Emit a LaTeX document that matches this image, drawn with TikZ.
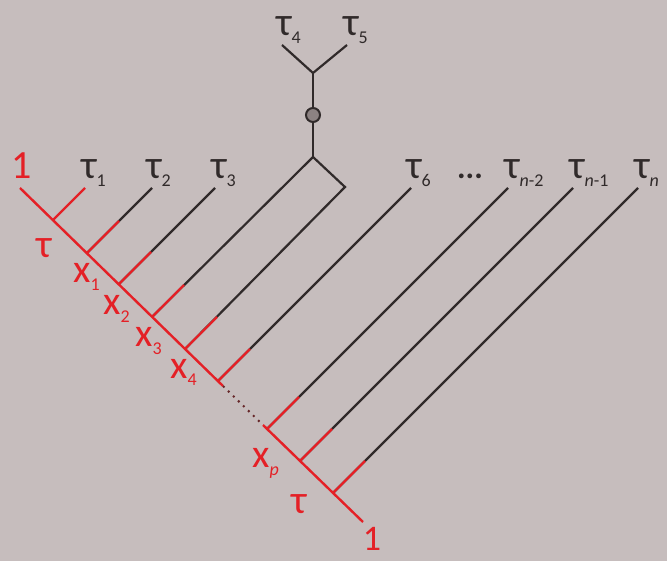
\documentclass[tikz,border=0pt]{standalone}
\usepackage{fontspec}
\setmainfont{Carlito}
\definecolor{bg}{RGB}{198,189,189}
\definecolor{rd}{RGB}{228,32,38}
\definecolor{ink}{RGB}{48,42,42}
\definecolor{knob}{RGB}{140,130,130}
\newcommand{\lowsub}[1]{\raisebox{-0.2em}{\fontsize{18}{18}\selectfont #1}}
\begin{document}
\begin{tikzpicture}[x=1pt,y=-1pt,
  lab/.style={inner sep=0pt, anchor=base west, font=\fontsize{40}{40}\selectfont, text=ink},
  rlab/.style={lab, text=rd},
  blk/.style={draw=ink, line width=2.2pt},
  redline/.style={draw=rd, line width=2.4pt},
  dotline/.style={draw=ink!70!rd, line width=2pt, dash pattern=on 2pt off 5pt}]
\fill[bg] (0,0) rectangle (667,561);
\useasboundingbox (0,0) rectangle (667,561);

% spine ends and junctions
\coordinate (S) at (20,188);
\coordinate (E) at (363,522);
\coordinate (j1) at (53,220);
\coordinate (j2) at (87,253);
\coordinate (j3) at (119,284);
\coordinate (j4) at (152,317);
\coordinate (j5) at (185,349);
\coordinate (j6) at (218,381);
\coordinate (j7) at (267,429);
\coordinate (j8) at (300,461);
\coordinate (j9) at (333,493);
\coordinate (dA) at (223,386);
\coordinate (dB) at (263,425);

% branch tips
\coordinate (t1) at (85,188);
\coordinate (t2) at (152,188);
\coordinate (t3) at (215,188);
\coordinate (t6) at (411,188);
\coordinate (t7) at (508,188);
\coordinate (t8) at (573,188);
\coordinate (t9) at (638,188);

% upper tree
\coordinate (T) at (313,157);
\coordinate (R) at (345,187);
\coordinate (Y) at (313,73);
\coordinate (y4) at (282,45);
\coordinate (y5) at (347,45);
\node[circle, draw=ink, fill=knob, line width=2pt, minimum size=14pt, inner sep=0pt] (c) at (313,115) {};

% black branches
\draw[blk] (j2) -- (t2);
\draw[blk] (j3) -- (t3);
\draw[blk] (j4) -- (T) -- (R) -- (j5);
\draw[blk] (j6) -- (t6);
\draw[blk] (j7) -- (t7);
\draw[blk] (j8) -- (t8);
\draw[blk] (j9) -- (t9);
\draw[blk] (T) -- (c);
\draw[blk] (c) -- (Y);
\draw[blk] (y4) -- (Y) -- (y5);

% red spine and red stubs
\draw[redline] (S) -- (dA);
\draw[dotline] (dA) -- (dB);
\draw[redline] (dB) -- (E);
\draw[redline] (j1) -- (t1);
\foreach \j in {j2,j3,j4,j5,j6,j7,j8,j9}
  \draw[redline] (\j) -- ++(32,-32);

% leaf labels
\node[lab] (l1) at (81,179) {τ\lowsub{1}};
\node[lab] (l2) at (146,179) {τ\lowsub{2}};
\node[lab] (l3) at (211,179) {τ\lowsub{3}};
\node[lab] (l4) at (276,36) {τ\lowsub{4}};
\node[lab] (l5) at (343,36) {τ\lowsub{5}};
\node[lab] (l6) at (406,179) {τ\lowsub{6}};
\node[lab, font=\fontsize{32}{32}\selectfont\bfseries] (ld) at (457,179) {...};
\node[lab] (l7) at (504,179) {τ\lowsub{\textit{n}-2}};
\node[lab] (l8) at (569,179) {τ\lowsub{\textit{n}-1}};
\node[lab] (l9) at (634,179) {τ\lowsub{\textit{n}}};

% red labels along the spine
\node[rlab, anchor=base] (one1) at (22,179) {1};
\node[rlab] (tauA) at (36,258) {τ};
\node[rlab] (x1) at (73,283) {x\lowsub{1}};
\node[rlab] (x2) at (103,315) {x\lowsub{2}};
\node[rlab] (x3) at (135,347) {x\lowsub{3}};
\node[rlab] (x4) at (170,378) {x\lowsub{4}};
\node[rlab] (xp) at (252,467) {x\lowsub{\textit{p}}};
\node[rlab] (tauB) at (291,513) {τ};
\node[rlab, anchor=base, text depth=0pt, font=\fontsize{36}{36}\selectfont] (one2) at (372,550) {1};
\end{tikzpicture}
\end{document}
